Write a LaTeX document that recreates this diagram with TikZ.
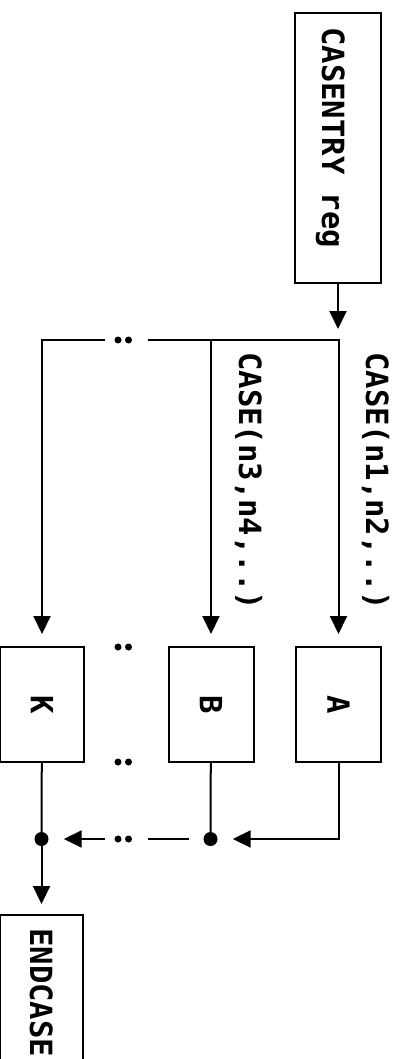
\documentclass[tikz,border=0pt]{standalone}
\usepackage{fontspec}
\usepackage{graphicx}
\usetikzlibrary{arrows.meta}
\newfontfamily\flowfont{DejaVu Sans Mono}
\begin{document}
\begin{tikzpicture}[x=1pt,y=-1pt,
  every node/.style={font=\flowfont\bfseries\fontsize{30.6}{30.6}\selectfont},
  blk/.style={draw, line width=2pt, inner sep=0pt, minimum width=85pt, minimum height=115pt},
  wire/.style={line width=2pt},
  arr/.style={wire, -{Triangle[length=18pt,width=17pt]}},
  jdot/.style={circle, fill, inner sep=0pt, minimum size=14pt},
  edot/.style={circle, fill, inner sep=0pt, minimum size=7pt},
  lbl/.style={rotate=-90, inner sep=0pt, anchor=base west}
]
\useasboundingbox (0,0) rectangle (407,1059);

% entry block
\node[blk, minimum width=86pt, minimum height=270pt] (entry) at (338,148) {};
\node[lbl] (entrytxt) at (322,27) {CASENTRY reg};

% case blocks
\node[blk] (A) at (338.5,704.5) {\rotatebox{-90}{A}};
\node[blk] (B) at (211,704.5) {\rotatebox{-90}{B}};
\node[blk, minimum width=84pt] (K) at (42,704.5) {\rotatebox{-90}{K}};

% exit block
\node[blk, minimum width=83pt, minimum height=160pt] (endc) at (41.5,995) {};
\node[lbl] (endtxt) at (30,928) {ENDCASE};

% branch labels
\node[lbl] (labA) at (366,352) {CASE(n1,n2,..)};
\node[lbl] (labB) at (239,352) {CASE(n3,n4,..)};

% distribution bus
\coordinate (split) at (338,340);
\coordinate (splitB) at (211,340);
\coordinate (busR) at (148,340);
\coordinate (busL) at (105,340);
\draw[arr, shorten >=11pt] (entry) -- (split);
\draw[arr, shorten >=12pt] (busR) -| (A);
\draw[arr, shorten >=12pt] (splitB) -- (B);
\draw[arr, shorten >=12pt] (busL) -| (K);
\node[edot] (bd1) at (118,340) {};
\node[edot] (bd2) at (128.5,340) {};

% ellipsis between blocks
\node[edot] (md1) at (118,647) {};
\node[edot] (md2) at (128.5,647) {};
\node[edot] (md3) at (118,762) {};
\node[edot] (md4) at (128.5,762) {};

% collection bus
\node[jdot] (mB) at (210.5,839) {};
\node[jdot] (mK) at (41.5,839) {};
\coordinate (colR) at (189,839);
\coordinate (colM) at (148,839);
\coordinate (colL) at (105,839);
\draw[arr, shorten >=15pt] (A) |- (mB);
\draw[wire] (B) -- (mB);
\draw[wire] (colR) -- (colM);
\draw[arr, shorten >=15pt] (colL) -- (mK);
\draw[wire] (K) -- (mK);
\node[edot] (cd1) at (118,839) {};
\node[edot] (cd2) at (128.5,839) {};
\draw[arr, shorten >=10pt] (mK) -- (endc);
\end{tikzpicture}
\end{document}
